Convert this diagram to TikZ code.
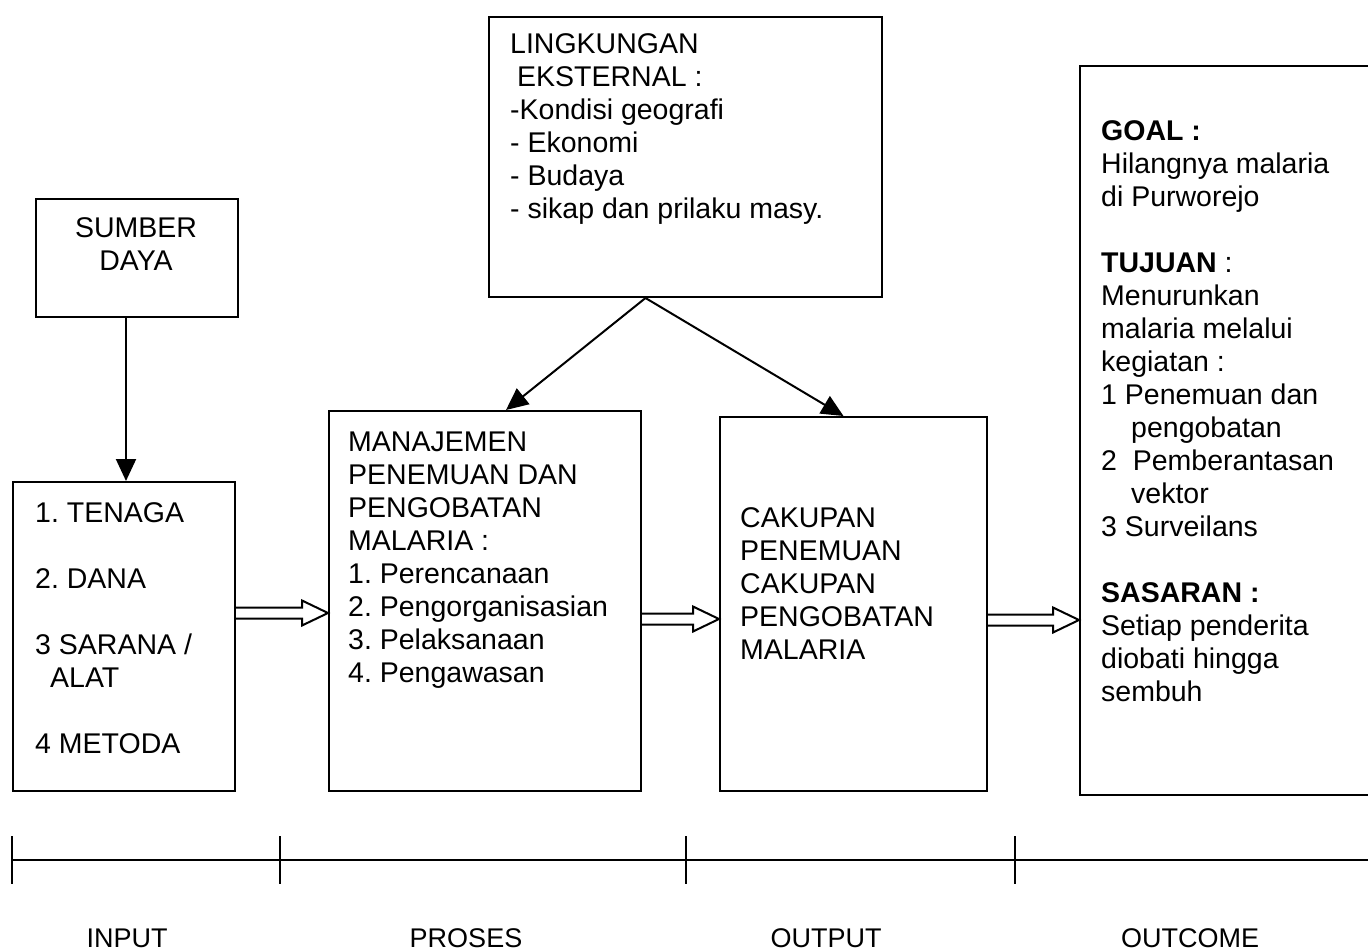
\documentclass[tikz,border=0pt]{standalone}
\usepackage{fontspec}
\setmainfont{Liberation Sans}
\usetikzlibrary{arrows.meta,calc}
\frenchspacing
\tikzset{
  box/.style={draw=black, line width=2pt, inner sep=0pt, anchor=north west},
  txt/.style={anchor=base west, align=left, inner sep=0pt, font=\fontsize{28.5}{33}\selectfont\frenchspacing},
  ctxt/.style={anchor=base, align=center, inner sep=0pt, font=\fontsize{28.5}{33}\selectfont\frenchspacing},
  lbl/.style={anchor=base, inner sep=0pt, font=\fontsize{27}{33}\selectfont},
  arr/.style={draw=black, line width=2pt, -{Triangle[length=22pt,width=20pt]}},
  dblarr/.style={draw=black, line width=2pt, line join=miter},
  axis/.style={draw=black, line width=2pt},
}
\newcommand{\blockarr}[2]{%
  \path[dblarr] let \p1=#1, \p2=#2 in
    (\x1,\y1+5.5) -- (\x2-26,\y1+5.5) -- (\x2-26,\y1+12.5) -- (\x2,\y1)
    -- (\x2-26,\y1-12.5) -- (\x2-26,\y1-5.5) -- (\x1,\y1-5.5);}
\begin{document}
\begin{tikzpicture}[x=1pt,y=-1pt]
\useasboundingbox (0,0) rectangle (1368,951);
% boxes
\node[box, minimum width=202pt, minimum height=118pt] (sd) at (35,198) {};
\node[box, minimum width=222pt, minimum height=309pt] (inp) at (12,481) {};
\node[box, minimum width=312pt, minimum height=380pt] (pro) at (328,410) {};
\node[box, minimum width=267pt, minimum height=374pt] (out) at (719,416) {};
\node[box, minimum width=393pt, minimum height=280pt] (ling) at (488,16) {};
\node[box, minimum width=310pt, minimum height=729pt] (oc) at (1079,65) {};
% texts (anchored at the baseline of their last line)
\node[ctxt] (sdt) at (136,270) {SUMBER\\DAYA};
\node[txt] (inpt) at (35,753) {1. TENAGA\\[33pt]2. DANA\\[33pt]3 SARANA /\\\hspace{15pt}ALAT\\[33pt]4 METODA};
\node[txt] (prot) at (348,682) {MANAJEMEN\\PENEMUAN DAN\\PENGOBATAN\\MALARIA :\\1. Perencanaan\\2. Pengorganisasian\\3. Pelaksanaan\\4. Pengawasan};
\node[txt] (outt) at (740,659) {CAKUPAN\\PENEMUAN\\CAKUPAN\\PENGOBATAN\\MALARIA};
\node[txt] (lingt) at (510,218) {LINGKUNGAN\\\hspace{7pt}EKSTERNAL :\\-Kondisi geografi\\- Ekonomi\\- Budaya\\- sikap dan prilaku masy.};
\node[txt] (oct) at (1101,701) {\textbf{GOAL :}\\Hilangnya malaria\\di Purworejo\\[33pt]\textbf{TUJUAN} :\\Menurunkan\\malaria melalui\\kegiatan :\\1 Penemuan dan\\\hspace{30pt}pengobatan\\2~ Pemberantasan\\\hspace{30pt}vektor\\3 Surveilans\\[33pt]\textbf{SASARAN :}\\Setiap penderita\\diobati hingga\\sembuh};
% arrows
\draw[arr] ([xshift=-11pt]sd.south) -- ([xshift=-11pt]sd.south |- inp.north);
\draw[arr] ([xshift=-40pt]ling.south) -- ([xshift=21pt]pro.north);
\draw[arr] ([xshift=-40pt]ling.south) -- ([xshift=-10pt]out.north);
\blockarr{(inp.east |- 0,613)}{(pro.west |- 0,613)}
\blockarr{(pro.east |- 0,619)}{(out.west |- 0,619)}
\blockarr{(out.east |- 0,620)}{(oc.west |- 0,620)}
% axis
\coordinate (t0) at (12,860);
\coordinate (t1) at (280,860);
\coordinate (t2) at (686,860);
\coordinate (t3) at (1015,860);
\coordinate (tend) at (1368,860);
\draw[axis] (t0) -- (tend);
\foreach \t in {t0,t1,t2,t3} \draw[axis] ([yshift=24pt]\t) -- ([yshift=-24pt]\t);
\node[lbl] (l1) at (127,947) {INPUT};
\node[lbl] (l2) at (466,947) {PROSES};
\node[lbl] (l3) at (826,947) {OUTPUT};
\node[lbl] (l4) at (1190,947) {OUTCOME};
\end{tikzpicture}
\end{document}
